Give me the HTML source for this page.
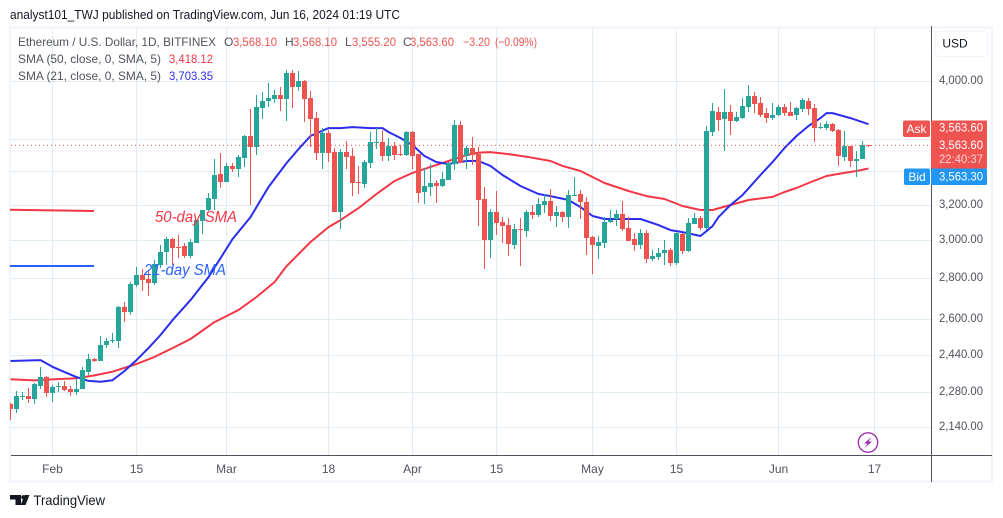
<!DOCTYPE html>
<html lang="en">
<head>
<meta charset="utf-8">
<title>ETH/USD chart</title>
<style>
html,body{margin:0;padding:0;background:#fff;width:1003px;height:518px;overflow:hidden}
svg{display:block;font-family:"Liberation Sans",sans-serif}
</style>
</head>
<body>
<svg id="chart" width="1003" height="518" viewBox="0 0 1003 518" xmlns="http://www.w3.org/2000/svg">
  <defs><clipPath id="pane-clip"><rect x="10" y="29" width="921" height="426"/></clipPath></defs>
  <rect x="0" y="0" width="1003" height="518" fill="#ffffff"/>
  <text x="10" y="19" font-size="12.5" fill="#131722" textLength="390" lengthAdjust="spacingAndGlyphs">analyst101_TWJ published on TradingView.com, Jun 16, 2024 01:19 UTC</text>
  <rect x="10" y="27.5" width="982" height="454" fill="none" stroke="#f0f3fa" stroke-width="2"/>
  <g id="grid"></g>
  <g id="pane" clip-path="url(#pane-clip)">
    <g id="sma-layer"></g>
    <g id="candle-layer"></g>
    <line id="last-price-line" x1="11" x2="931" stroke="#ef5350" stroke-width="1" stroke-dasharray="1 3"/>
  </g>

  <line x1="931.5" x2="931.5" y1="26" y2="482" stroke="#50535e" stroke-width="1"/>
  <line x1="11" x2="992" y1="455.5" y2="455.5" stroke="#50535e" stroke-width="1"/>
  <g id="price-ticks"></g>
  <g id="time-ticks"></g>

  <g font-size="12">
    <text x="18" y="46" fill="#50535e" textLength="198" lengthAdjust="spacingAndGlyphs">Ethereum / U.S. Dollar, 1D, BITFINEX</text>
    <text x="224" y="46" fill="#50535e">O</text>
    <text x="233" y="46" fill="#ef5350" textLength="44" lengthAdjust="spacingAndGlyphs">3,568.10</text>
    <text x="285" y="46" fill="#50535e">H</text>
    <text x="293" y="46" fill="#ef5350" textLength="44" lengthAdjust="spacingAndGlyphs">3,568.10</text>
    <text x="345" y="46" fill="#50535e">L</text>
    <text x="352" y="46" fill="#ef5350" textLength="44" lengthAdjust="spacingAndGlyphs">3,555.20</text>
    <text x="403" y="46" fill="#50535e">C</text>
    <text x="410" y="46" fill="#ef5350" textLength="44" lengthAdjust="spacingAndGlyphs">3,563.60</text>
    <text x="463" y="46" fill="#ef5350" textLength="27" lengthAdjust="spacingAndGlyphs">−3.20</text>
    <text x="495" y="46" fill="#ef5350" textLength="42" lengthAdjust="spacingAndGlyphs">(−0.09%)</text>
    <text x="18" y="63" fill="#50535e" textLength="143" lengthAdjust="spacingAndGlyphs">SMA (50, close, 0, SMA, 5)</text>
    <text x="169" y="63" fill="#f23645" textLength="44" lengthAdjust="spacingAndGlyphs">3,418.12</text>
    <text x="18" y="80" fill="#50535e" textLength="143" lengthAdjust="spacingAndGlyphs">SMA (21, close, 0, SMA, 5)</text>
    <text x="169" y="80" fill="#2a2eec" textLength="44" lengthAdjust="spacingAndGlyphs">3,703.35</text>
  </g>

  <line x1="10" y1="209.8" x2="94" y2="211" stroke="#f23645" stroke-width="2"/>
  <line x1="10" y1="266" x2="94" y2="266" stroke="#2962ff" stroke-width="2"/>
  <text x="155" y="222" font-size="16" font-style="italic" fill="#f23645" textLength="82" lengthAdjust="spacingAndGlyphs">50-day SMA</text>
  <text x="144" y="275" font-size="16" font-style="italic" fill="#2962ff" textLength="82" lengthAdjust="spacingAndGlyphs">21-day SMA</text>

  <rect x="935.5" y="31" width="52" height="25.5" rx="4" fill="#ffffff" stroke="#f0f3fa" stroke-width="1"/>
  <text x="955" y="47.5" font-size="12" fill="#131722" text-anchor="middle">USD</text>

  <rect x="903" y="120.5" width="27" height="16.5" rx="2" fill="#ef5350"/>
  <text x="916.5" y="133" font-size="12" fill="#ffffff" text-anchor="middle">Ask</text>
  <rect x="931" y="120.5" width="56" height="48" rx="1" fill="#ef5350"/>
  <text x="961" y="131.5" font-size="12" fill="#ffffff" text-anchor="middle" textLength="44" lengthAdjust="spacingAndGlyphs">3,563.60</text>
  <text x="961" y="149" font-size="12" fill="#ffffff" text-anchor="middle" textLength="44" lengthAdjust="spacingAndGlyphs">3,563.60</text>
  <text x="961" y="163" font-size="12" fill="#fcd0d3" text-anchor="middle" textLength="44" lengthAdjust="spacingAndGlyphs">22:40:37</text>
  <rect x="904" y="168.5" width="26" height="16.5" rx="2" fill="#2196f3"/>
  <text x="917" y="181" font-size="12" fill="#ffffff" text-anchor="middle">Bid</text>
  <rect x="931" y="168.5" width="56" height="16.5" rx="1" fill="#2196f3"/>
  <text x="961" y="180.5" font-size="12" fill="#ffffff" text-anchor="middle" textLength="44" lengthAdjust="spacingAndGlyphs">3,563.30</text>

  <g>
    <circle cx="868" cy="442.5" r="9.7" fill="#ffffff" stroke="#9c27b0" stroke-width="1.3"/>
    <polygon points="871.5,437 864,443.5 867.5,443.5 864.5,448 872,441.5 868.5,441.5" fill="#9c27b0"/>
  </g>

  <g>
    <polygon points="10,495 21,495 21,505 15.5,505 15.5,499.5 10,499.5" fill="#131722"/>
    <circle cx="23.4" cy="497.3" r="2.2" fill="#131722"/>
    <polygon points="25,495 29.5,495 25.5,505 20.5,505" fill="#131722"/>
    <text x="33.5" y="505" font-size="14" fill="#131722" textLength="71.5" lengthAdjust="spacingAndGlyphs">TradingView</text>
  </g>
</svg>
<script>
// Chart data (daily candles; firstDay is days relative to Feb 1, 2024)
const firstDay = -7;
const opens = [2233,2214,2264,2265,2253,2307,2345,
2278,2304,2307,2294,2282,2294,2368,2422,2415,2484,
2502,2504,2661,2639,2770,2819,2799,2781,2871,2939,
3009,2966,2972,2918,2989,3110,3171,3235,3383,3338,
3434,3415,3485,3625,3555,3815,3862,3876,3904,3876,
4062,3960,4006,3883,3744,3517,3644,3521,3161,3521,
3496,3334,3324,3452,3582,3586,3496,3560,3508,3502,
3651,3508,3276,3306,3330,3312,3348,3446,3697,3496,
3547,3508,3235,3004,3160,3103,3086,2977,3064,3053,
3160,3143,3200,3223,3137,3160,3131,3254,3264,3217,
3020,2972,2988,3103,3120,3148,3069,3009,2977,3042,
2902,2913,2934,2950,2881,3036,2945,3092,3125,3069,
3651,3786,3738,3786,3724,3744,3820,3897,3848,3778,
3744,3765,3820,3786,3765,3806,3862,3813,3682,3677,
3704,3664,3490,3560,3465,3477,3568.1];
const highs = [2237,2286,2282,2301,2318,2388,2348,
2310,2324,2329,2307,2336,2387,2444,2427,2525,2515,
2539,2666,2685,2784,2859,2849,2845,2897,2977,3022,
3013,3029,2989,3009,3114,3171,3272,3480,3513,3450,
3454,3502,3631,3806,3904,3925,3989,3939,3963,4084,
4084,4076,4011,3932,3786,3675,3664,3547,3540,3592,
3547,3434,3471,3651,3677,3664,3612,3586,3566,3658,
3656,3508,3421,3446,3348,3397,3458,3731,3724,3560,
3618,3555,3306,3177,3282,3131,3125,3092,3125,3171,
3200,3241,3264,3294,3194,3165,3288,3366,3288,3247,
3026,3026,3131,3171,3171,3223,3131,3042,3064,3058,
2950,2961,3004,2961,3042,3042,3125,3154,3137,3691,
3847,3820,3946,3834,3786,3883,3974,3925,3890,3813,
3848,3834,3841,3855,3820,3883,3883,3841,3711,3724,
3711,3671,3658,3560,3528,3592,3568.1];
const lows = [2169,2198,2249,2236,2233,2293,2262,
2241,2282,2287,2265,2271,2293,2354,2408,2414,2471,
2492,2472,2591,2623,2760,2741,2716,2768,2855,2871,
2871,2906,2908,2906,2989,3036,3167,3171,3298,3336,
3398,3366,3429,3200,3502,3738,3820,3846,3792,3724,
3811,3930,3720,3553,3471,3415,3460,3158,3064,3415,
3254,3264,3300,3421,3540,3465,3465,3471,3496,3496,
3415,3212,3206,3252,3212,3306,3348,3409,3452,3415,
3440,3080,2850,2908,3031,2988,2918,2955,2866,3020,
3120,3131,3154,3108,3075,3103,3069,3252,3120,2923,
2825,2902,2961,3097,3080,3053,2998,2945,2955,2881,
2892,2897,2871,2866,2871,2929,2939,3092,3058,3058,
3625,3658,3528,3631,3718,3738,3786,3778,3751,3711,
3731,3758,3758,3758,3731,3786,3765,3586,3671,3664,
3651,3434,3465,3428,3366,3477,3555.2];
const closes = [2214,2265,2267,2254,2315,2345,2278,
2303,2307,2291,2282,2297,2375,2422,2415,2484,2502,
2508,2661,2639,2774,2819,2794,2781,2875,2939,3009,
2962,2962,2918,2993,3114,3171,3239,3378,3338,3434,
3415,3488,3625,3555,3820,3862,3883,3904,3876,4062,
3962,4004,3876,3738,3517,3644,3517,3161,3521,3490,
3330,3330,3458,3586,3586,3496,3560,3502,3502,3651,
3496,3270,3312,3330,3312,3354,3452,3697,3452,3547,
3502,3229,3004,3160,3097,3080,2982,3064,3058,3160,
3143,3206,3223,3137,3160,3131,3258,3260,3217,3015,
2977,2993,3103,3114,3148,3064,2998,2977,3042,2902,
2918,2934,2950,2881,3042,2945,3097,3125,3069,3658,
3792,3731,3786,3724,3751,3827,3897,3841,3765,3744,
3765,3820,3778,3758,3813,3869,3806,3677,3686,3704,
3658,3496,3560,3465,3477,3566,3563.6];
const lastPrice = 3563.6;

const sma21Days = [-7,-2,0,2,4,6,8,10,12,14,16,18,20,23,26,28,30,33,36,39,41,43,46,48,50,53,55,56,58,60,62,64,66,69,71,73,75,78,81,83,86,88,90,92,95,98,101,103,105,108,110,111,113,115,118,120,122,124,126,128,129,130,133,136];
const sma21Values = [2414,2418,2389,2366,2345,2329,2325,2332,2371,2418,2471,2530,2599,2695,2809,2907,3009,3131,3306,3452,3540,3625,3677,3677,3684,3677,3677,3651,3612,3566,3496,3458,3446,3465,3465,3434,3378,3312,3264,3252,3229,3188,3137,3120,3120,3120,3086,3058,3047,3026,3080,3131,3200,3258,3378,3458,3547,3625,3691,3744,3778,3778,3744,3703.35];
const sma50Days = [-7,-3,0,4,7,10,14,17,20,23,27,31,34,37,39,43,46,48,51,54,57,60,63,66,69,71,73,76,79,83,85,88,92,96,99,102,105,108,110,113,116,120,122,124,126,129,132,134,136];
const sma50Values = [2336,2331,2335,2340,2352,2368,2401,2432,2471,2512,2590,2647,2710,2784,2865,2993,3075,3114,3182,3264,3342,3391,3428,3465,3502,3518,3521,3508,3492,3465,3434,3403,3330,3282,3252,3235,3194,3171,3171,3200,3229,3247,3276,3300,3330,3372,3391,3403,3418.12];

const priceTicks = [4000,3600,3400,3200,3000,2800,2600,2440,2280,2140];
const priceTickLabels = ["4,000.00","","","3,200.00","3,000.00","2,800.00","2,600.00","2,440.00","2,280.00","2,140.00"];
const timeTickDays = [0,14,29,46,60,74,90,104,121,137];
const timeTickLabels = ["Feb","15","Mar","18","Apr","15","May","15","Jun","17"];

const NS = "http://www.w3.org/2000/svg";
function make(tag, attrs, parent) {
  const el = document.createElementNS(NS, tag);
  for (const k in attrs) el.setAttribute(k, attrs[k]);
  parent.appendChild(el);
  return el;
}
// Axis functions
function xDay(d) { return 52.5 + 6 * d; }
function yPrice(p) { return 81.5 + 553.5 * Math.log(4000 / p); }

const grid = document.getElementById("grid");
const smaLayer = document.getElementById("sma-layer");
const candleLayer = document.getElementById("candle-layer");
const priceTickLayer = document.getElementById("price-ticks");
const timeTickLayer = document.getElementById("time-ticks");

priceTicks.forEach(function (p, i) {
  const y = Math.floor(yPrice(p)) + 0.5;
  const line = make("line", {x1: 11, x2: 931, y1: y, y2: y, stroke: "#e1ebf2", "stroke-width": 1}, grid);
  
  
  if (priceTickLabels[i]) {
    const t = make("text", {x: 961, y: y + 2.5, "font-size": 12, fill: "#50535e", "text-anchor": "middle", textLength: 44, lengthAdjust: "spacingAndGlyphs"}, priceTickLayer);
    t.textContent = priceTickLabels[i];
    
    
  }
});

timeTickDays.forEach(function (d, i) {
  const x = xDay(d);
  const line = make("line", {x1: x, x2: x, y1: 29, y2: 455, stroke: "#e1ebf2", "stroke-width": 1}, grid);
  
  
  const t = make("text", {x: x, y: 473, "font-size": 12, fill: "#50535e", "text-anchor": "middle"}, timeTickLayer);
  t.textContent = timeTickLabels[i];
  
  
});

function smaPoints(days, values) {
  return days.map(function (d, i) { return xDay(d) + "," + yPrice(values[i]).toFixed(1); }).join(" ");
}
const sma50Line = make("polyline", {points: smaPoints(sma50Days, sma50Values), fill: "none", stroke: "#f23645", "stroke-width": 2, "stroke-linejoin": "round"}, smaLayer);


const sma21Line = make("polyline", {points: smaPoints(sma21Days, sma21Values), fill: "none", stroke: "#2a2eec", "stroke-width": 2, "stroke-linejoin": "round"}, smaLayer);



opens.forEach(function (o, i) {
  const c = closes[i];
  const color = c >= o ? "#26a69a" : "#ef5350";
  const x = xDay(firstDay + i);
  const yH = Math.round(yPrice(highs[i]));
  const yL = Math.round(yPrice(lows[i]));
  const yT = Math.round(yPrice(Math.max(o, c)));
  const yB = Math.round(yPrice(Math.min(o, c)));
  const wick = make("rect", {x: x - 0.5, y: yH, width: 1, height: Math.max(1, yL - yH), fill: color}, candleLayer);
  
  
  const body = make("rect", {x: x - 2.5, y: yT, width: 5, height: Math.max(1, yB - yT), fill: color}, candleLayer);
  
  
});

const priceLine = document.getElementById("last-price-line");
const lastY = yPrice(lastPrice).toFixed(1);
priceLine.setAttribute("y1", lastY);
priceLine.setAttribute("y2", lastY);
</script>
</body>
</html>
